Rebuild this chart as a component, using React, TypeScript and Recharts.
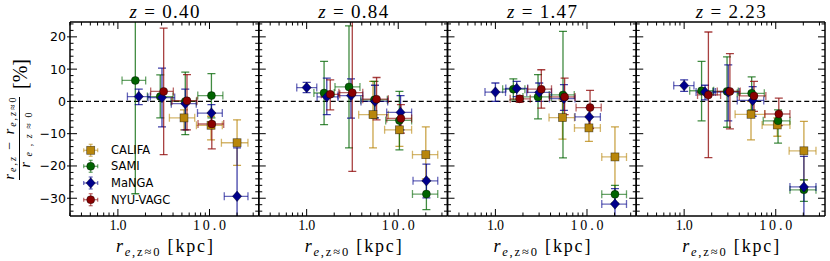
import React from 'react';
import { ScatterChart, Scatter, XAxis, YAxis, ErrorBar, ReferenceLine } from 'recharts';

// --- data: [x, y, xLow, xHigh, yLow, yHigh] ---
const REDSHIFTS = ['0.40', '0.84', '1.47', '2.23'];
const SURVEYS = ['CALIFA', 'SAMI', 'MaNGA', 'NYU-VAGC'];

const CALIFA_040 = [[5.27, -5.1, 3.65, 6.9, -8.8, -2.6], [10.4, -7.4, 7.2, 13.8, -11.9, -4.6], [20.0, -12.8, 13.5, 26.3, -19.8, -5.7]];
const SAMI_040 = [[1.55, 6.5, 1.11, 2.01, -28.6, 41.6], [2.9, 1.5, 2.1, 4.0, -5.1, 8.2], [5.44, 0.0, 3.8, 7.2, -10.3, 9.1], [10.5, 1.8, 7.45, 14.0, -5.1, 8.6]];
const MANGA_040 = [[1.69, 1.5, 1.27, 2.26, -1.0, 3.8], [3.03, 1.2, 2.13, 4.17, -7.9, 10.3], [5.44, -0.7, 3.83, 7.17, -8.8, 3.8], [10.5, -3.6, 7.4, 13.8, -7.2, -1.0], [20.0, -29.4, 14.5, 26.3, -44.0, -14.4]];
const NYU_040 = [[3.16, 3.1, 2.28, 4.03, -16.5, 22.7], [5.68, 0.2, 3.9, 7.3, -8.8, 8.3], [10.6, -7.0, 7.5, 14.3, -14.7, -3.6]];

const CALIFA_084 = [[5.3, -4.1, 3.7, 7.8, -14.4, 6.2], [10.3, -8.8, 7.1, 14.0, -13.9, -5.7], [20.0, -16.5, 14.3, 27.0, -24.0, -7.9]];
const SAMI_084 = [[1.55, 2.6, 1.2, 2.0, -7.2, 12.4], [2.9, 4.5, 2.04, 3.82, -14.4, 23.4], [5.5, 0.5, 3.9, 7.6, -5.1, 6.2], [10.3, -5.9, 7.3, 14.0, -15.0, 3.1], [20.3, -28.7, 14.3, 27.0, -33.5, -24.8]];
const MANGA_084 = [[1.0, 4.3, 0.78, 1.29, 2.7, 5.9], [1.66, 1.4, 1.3, 2.2, -4.1, 7.2], [3.05, 1.8, 2.2, 4.1, -5.2, 7.0], [5.57, 0.0, 3.92, 7.67, -5.1, 5.0], [10.6, -3.4, 7.48, 14.0, -8.8, 1.8], [20.3, -24.6, 14.5, 27.0, -29.9, -19.4]];
const NYU_084 = [[1.81, 2.2, 1.45, 2.3, -2.6, 6.7], [3.15, 2.7, 2.25, 4.1, -21.7, 27.1], [5.8, 0.7, 4.1, 7.8, -5.7, 7.4], [10.7, -5.3, 7.5, 14.0, -9.8, -1.0]];

const CALIFA_147 = [[5.4, -5.0, 3.85, 7.3, -11.7, 0.5], [10.5, -8.2, 7.3, 14.0, -12.4, -4.6], [20.2, -17.2, 14.5, 27.0, -28.4, -7.9]];
const SAMI_147 = [[1.57, 3.8, 1.2, 2.1, 0.5, 7.0], [2.92, 1.4, 2.0, 4.1, -5.4, 8.3], [5.47, 2.0, 3.87, 7.26, -17.5, 21.7], [20.2, -28.8, 14.5, 27.0, -31.5, -26.0]];
const MANGA_147 = [[1.0, 2.9, 0.77, 1.29, 0.0, 5.7], [1.71, 4.0, 1.3, 2.25, 1.5, 6.2], [3.01, 2.8, 2.2, 4.1, 0.0, 5.7], [5.6, 0.9, 3.9, 7.4, -2.8, 5.2], [10.6, -4.8, 7.4, 14.0, -7.9, -1.9], [20.2, -31.8, 14.5, 27.0, -47.0, -27.0]];
const NYU_147 = [[1.84, 0.8, 1.45, 2.4, -0.3, 1.8], [3.17, 3.8, 2.25, 4.1, -2.1, 9.8], [5.7, 1.4, 3.9, 7.4, -4.1, 7.2], [10.8, -1.9, 7.6, 14.3, -8.4, 3.4]];

const CALIFA_223 = [[5.37, -4.0, 3.6, 7.6, -11.9, 0.0], [10.4, -7.3, 7.1, 14.3, -10.8, -5.1], [20.3, -15.3, 14.0, 27.5, -24.3, -6.2]];
const SAMI_223 = [[1.55, 3.3, 1.15, 2.1, -6.0, 12.4], [2.94, 3.1, 2.05, 3.9, -8.0, 13.8], [5.46, 2.5, 3.8, 7.5, -2.6, 7.6], [10.6, -6.0, 7.3, 14.3, -12.9, -2.6], [20.3, -27.4, 14.3, 27.5, -31.0, -24.3]];
const MANGA_223 = [[1.0, 4.9, 0.77, 1.28, 3.1, 6.7], [1.69, 2.9, 1.35, 2.2, 0.5, 5.0], [3.03, 2.9, 2.1, 4.0, -6.0, 11.3], [5.6, 0.3, 3.8, 7.4, -4.6, 4.6], [20.3, -26.5, 14.3, 27.5, -45.0, -17.0]];
const NYU_223 = [[1.84, 2.0, 1.4, 2.5, -17.4, 21.5], [3.16, 3.1, 2.3, 4.1, -8.5, 14.8], [5.79, 1.7, 4.0, 7.8, -3.1, 6.2], [10.8, -3.9, 7.6, 14.3, -7.5, 1.0]];

const PANELS = [
  [CALIFA_040, SAMI_040, MANGA_040, NYU_040],
  [CALIFA_084, SAMI_084, MANGA_084, NYU_084],
  [CALIFA_147, SAMI_147, MANGA_147, NYU_147],
  [CALIFA_223, SAMI_223, MANGA_223, NYU_223],
];

const X_MAJOR = [1, 10];
const X_LABELS = ['1.0', '10.0'];
const X_MINOR = [0.3, 0.4, 0.5, 0.6, 0.7, 0.8, 0.9, 2, 3, 4, 5, 6, 7, 8, 9, 20, 30];
const Y_MAJOR = [-30, -20, -10, 0, 10, 20];
const Y_MINOR = [-34, -32, -28, -26, -24, -22, -18, -16, -14, -12, -8, -6, -4, -2, 2, 4, 6, 8, 12, 14, 16, 18, 22, 24];

// --- layout / style ---
const W = 830;
const H = 261;
const PLOT_TOP = 22;
const PLOT_BOTTOM = 216;
const PANEL_LEFT = 70;
const PANEL_W = 188.75;
const X_DOMAIN = [0.3, 34.5];
const Y_DOMAIN = [-35.5, 24.6];
const COLORS = ['#b8860b', '#006400', '#00008b', '#8b0000'];
const SHAPES = ['square', 'circle', 'diamond', 'circle'];
const SERIF = '"Liberation Serif", serif';
const SANS = '"DejaVu Sans", sans-serif';

const X_TICKS = [...X_MINOR, ...X_MAJOR].sort((a, b) => a - b);
const Y_TICKS = [...Y_MINOR, ...Y_MAJOR].sort((a, b) => a - b);

const toRows = (pts: number[][]) =>
  pts.map(([x, y, x0, x1, y0, y1]) => ({ x, y, ex: [x - x0, x1 - x], ey: [y - y0, y1 - y] }));

const marker = (shape: string, color: string, cx: number, cy: number) => {
  const edge = { stroke: '#000', strokeWidth: 0.7, strokeOpacity: 0.55 };
  if (shape === 'square') return <rect x={cx - 4} y={cy - 4} width={8} height={8} fill={color} {...edge} />;
  if (shape === 'diamond')
    return <polygon points={`${cx},${cy - 5.2} ${cx + 4.6},${cy} ${cx},${cy + 5.2} ${cx - 4.6},${cy}`} fill={color} {...edge} />;
  return <circle cx={cx} cy={cy} r={4} fill={color} {...edge} />;
};

const xTick = (side: 'bottom' | 'top', label: boolean) => (p: any) => {
  const { x, y, payload } = p;
  const i = X_MAJOR.indexOf(payload.value);
  const len = i >= 0 ? 7 : 3.5;
  const dir = side === 'bottom' ? -1 : 1;
  return (
    <g>
      <line x1={x} x2={x} y1={y} y2={y + dir * len} stroke="#000" strokeWidth={1} />
      {label && i >= 0 && (
        <text x={x} y={y + 14} textAnchor="middle" fontFamily={SERIF} fontSize={14} fill="#000"
          textLength={i === 0 ? 17 : 33} lengthAdjust="spacing">
          {X_LABELS[i]}
        </text>
      )}
    </g>
  );
};

const yTick = (side: 'left' | 'right', label: boolean) => (p: any) => {
  const { x, y, payload } = p;
  const v = payload.value;
  const major = Y_MAJOR.includes(v);
  const len = major ? 7 : 3.5;
  const dir = side === 'left' ? 1 : -1;
  return (
    <g>
      <line x1={x} x2={x + dir * len} y1={y} y2={y} stroke="#000" strokeWidth={1} />
      {label && major && (
        <>
          <line x1={x} x2={x - 3} y1={y} y2={y} stroke="#000" strokeWidth={1} />
          <text x={x - 4} y={y} dy="0.36em" textAnchor="end" fontFamily={SANS} fontSize={12.5} fill="#000">
            {v < 0 ? `\u2212${Math.abs(v)}` : `${v}`}
          </text>
        </>
      )}
    </g>
  );
};

const axisLine = { stroke: '#000', strokeWidth: 1.5 };

// data layer: plot rect only, clipped so error bars running off the axes are cut
function DataLayer({ idx }: { idx: number }) {
  const left = PANEL_LEFT + idx * PANEL_W;
  const right = W - left - PANEL_W;
  const series = PANELS[idx];
  const clip = `inset(${PLOT_TOP}px ${right}px ${H - PLOT_BOTTOM}px ${left}px)`;
  return (
    <div style={{ position: 'absolute', left: 0, top: 0, clipPath: clip }}>
      <ScatterChart width={W} height={H} margin={{ top: PLOT_TOP, bottom: H - PLOT_BOTTOM, left, right }}>
        <XAxis xAxisId="b" dataKey="x" type="number" scale="log" domain={X_DOMAIN} allowDataOverflow hide />
        <YAxis yAxisId="l" dataKey="y" type="number" domain={Y_DOMAIN} allowDataOverflow hide />
        <ReferenceLine xAxisId="b" yAxisId="l" y={0} stroke="#000" strokeWidth={1.4} strokeDasharray="5 3" />
        {series.map((pts, s) => (
          <Scatter key={SURVEYS[s]} name={SURVEYS[s]} xAxisId="b" yAxisId="l" data={toRows(pts)}
            isAnimationActive={false}
            shape={(p: any) => marker(SHAPES[s], COLORS[s], p.cx, p.cy)}>
            <ErrorBar dataKey="ex" direction="x" width={4} stroke={COLORS[s]} strokeWidth={1.3} strokeOpacity={0.6} />
            <ErrorBar dataKey="ey" direction="y" width={4} stroke={COLORS[s]} strokeWidth={1.3} strokeOpacity={0.75} />
          </Scatter>
        ))}
      </ScatterChart>
    </div>
  );
}

// axes layer: frame and ticks on all four sides
function AxesLayer({ idx }: { idx: number }) {
  const left = PANEL_LEFT + idx * PANEL_W;
  const right = W - left - PANEL_W;
  return (
    <div style={{ position: 'absolute', left: 0, top: 0 }}>
      <ScatterChart width={W} height={H}
        margin={{ top: PLOT_TOP - 1, bottom: H - PLOT_BOTTOM - 1, left: left - 1, right: right - 1 }}>
        <XAxis xAxisId="b" orientation="bottom" dataKey="x" type="number" scale="log" domain={X_DOMAIN}
          allowDataOverflow ticks={X_TICKS} interval={0} height={1} tickSize={0} tickMargin={0}
          tickLine={false} axisLine={axisLine} tick={xTick('bottom', true)} />
        <XAxis xAxisId="t" orientation="top" dataKey="x" type="number" scale="log" domain={X_DOMAIN}
          allowDataOverflow ticks={X_TICKS} interval={0} height={1} tickSize={0} tickMargin={0}
          tickLine={false} axisLine={axisLine} tick={xTick('top', false)} />
        <YAxis yAxisId="l" orientation="left" dataKey="y" type="number" domain={Y_DOMAIN} allowDataOverflow
          ticks={Y_TICKS} interval={0} width={1} tickSize={0} tickMargin={0} tickLine={false}
          axisLine={axisLine} tick={yTick('left', idx === 0)} />
        <YAxis yAxisId="r" orientation="right" dataKey="y" type="number" domain={Y_DOMAIN} allowDataOverflow
          ticks={Y_TICKS} interval={0} width={1} tickSize={0} tickMargin={0} tickLine={false}
          axisLine={axisLine} tick={yTick('right', false)} />
      </ScatterChart>
    </div>
  );
}

const LEGEND_Y = [150.3, 166.3, 183, 199.7];

function Overlay() {
  const centers = REDSHIFTS.map((_, i) => PANEL_LEFT + (i + 0.5) * PANEL_W);
  return (
    <svg width={W} height={H} style={{ position: 'absolute', left: 0, top: 0 }}>
      {REDSHIFTS.map((z, i) => (
        <text key={z} x={centers[i]} y={18} textAnchor="middle" fontFamily={SERIF} fontSize={19}
          textLength={70} lengthAdjust="spacing">
          <tspan fontStyle="italic">z</tspan> = {z}
        </text>
      ))}
      {REDSHIFTS.map((z, i) => (
        <text key={'xl' + z} x={centers[i]} y={252} textAnchor="middle" fontFamily={SERIF} fontSize={18}
          textLength={97} lengthAdjust="spacing">
          <tspan fontStyle="italic">r</tspan>
          <tspan fontSize={12.5} dy={4}><tspan fontStyle="italic">e</tspan>,z≈0</tspan>
          <tspan dy={-4}> [kpc]</tspan>
        </text>
      ))}
      <g transform="rotate(-90)" fontFamily={SERIF}>
        <text x={-138.5} y={13.5} textAnchor="middle" fontSize={14} textLength={82} lengthAdjust="spacing">
          <tspan fontStyle="italic">r</tspan>
          <tspan fontSize={10} dy={2.5} fontStyle="italic">e,z</tspan>
          <tspan dy={-2.5}> − </tspan>
          <tspan fontStyle="italic">r</tspan>
          <tspan fontSize={10} dy={2.5}><tspan fontStyle="italic">e,z</tspan>≈0</tspan>
        </text>
        <line x1={-180} x2={-97} y1={19.5} y2={19.5} stroke="#000" strokeWidth={1} />
        <text x={-140} y={29.5} textAnchor="middle" fontSize={14} textLength={55} lengthAdjust="spacing">
          <tspan fontStyle="italic">r</tspan>
          <tspan fontSize={10} dy={2.5}><tspan fontStyle="italic">e,z</tspan>≈0</tspan>
        </text>
        <text x={-74} y={26.5} textAnchor="middle" fontSize={20}>[%]</text>
      </g>
      {SURVEYS.map((name, s) => {
        const cy = LEGEND_Y[s];
        const cx = 90.7;
        return (
          <g key={name}>
            <g stroke={COLORS[s]} strokeWidth={1.3} strokeOpacity={0.55}>
              <line x1={cx - 7} x2={cx + 7} y1={cy} y2={cy} />
              <line x1={cx - 7} x2={cx - 7} y1={cy - 2} y2={cy + 2} />
              <line x1={cx + 7} x2={cx + 7} y1={cy - 2} y2={cy + 2} />
              <line x1={cx} x2={cx} y1={cy - 6} y2={cy + 6} />
              <line x1={cx - 2} x2={cx + 2} y1={cy - 6} y2={cy - 6} />
              <line x1={cx - 2} x2={cx + 2} y1={cy + 6} y2={cy + 6} />
            </g>
            {marker(SHAPES[s], COLORS[s], cx, cy)}
            <text x={111} y={cy} dy="0.36em" fontFamily={SANS} fontSize={11.5}>{name}</text>
          </g>
        );
      })}
    </svg>
  );
}

export default function App() {
  return (
    <div style={{ position: 'absolute', left: 0, top: 0, width: W, height: H, background: '#fff' }}>
      {REDSHIFTS.map((z, i) => <DataLayer key={'d' + z} idx={i} />)}
      {REDSHIFTS.map((z, i) => <AxesLayer key={'a' + z} idx={i} />)}
      <Overlay />
    </div>
  );
}
